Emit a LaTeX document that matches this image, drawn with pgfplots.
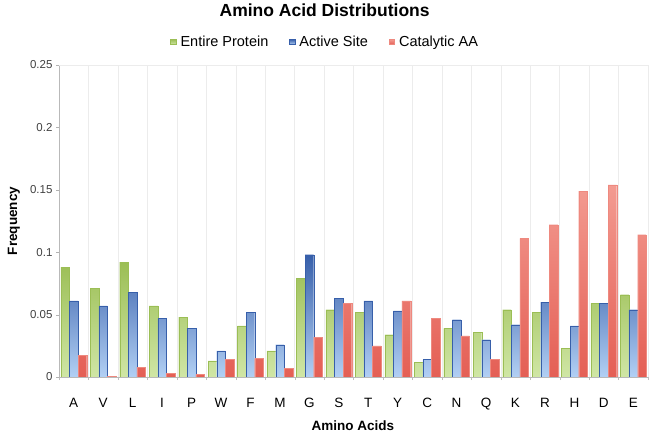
\documentclass[border=0pt]{standalone}
\usepackage{pgfplots}
\usepackage{pgfplotstable}
\pgfplotsset{compat=1.18}
\usepackage{fontspec}
\setmainfont{Liberation Sans}
\definecolor{gtop}{RGB}{155,190,85}
\definecolor{gbot}{RGB}{208,230,165}
\definecolor{btop}{RGB}{55,95,170}
\definecolor{bbot}{RGB}{178,208,244}
\definecolor{rtop}{RGB}{243,155,145}
\definecolor{rbot}{RGB}{228,95,85}
\pgfplotstableread{
x ent act cat
0  0.088 0.061 0.0175
1  0.071 0.057 0.0006
2  0.092 0.068 0.008
3  0.057 0.047 0.003
4  0.048 0.039 0.002
5  0.013 0.021 0.014
6  0.041 0.052 0.015
7  0.021 0.026 0.007
8  0.079 0.098 0.032
9  0.054 0.063 0.059
10 0.052 0.061 0.025
11 0.034 0.053 0.061
12 0.012 0.014 0.047
13 0.039 0.046 0.033
14 0.036 0.030 0.014
15 0.054 0.042 0.111
16 0.052 0.060 0.122
17 0.023 0.041 0.149
18 0.059 0.059 0.154
19 0.066 0.054 0.114
}\datatable
\begin{document}
\begin{tikzpicture}
\useasboundingbox (0,0) rectangle (654bp,438bp);
\begin{axis}[
  at={(59bp,61bp)}, anchor=south west,
  scale only axis, width=589bp, height=312bp,
  ybar=0pt, bar width=8.6bp,
  xmin=-0.5, xmax=19.5, ymin=0, ymax=0.25,
  xtick={0,...,19},
  xticklabels={A,V,L,I,P,W,F,M,G,S,T,Y,C,N,Q,K,R,H,D,E},
  minor xtick={-0.5,0.5,...,19.5},
  major x tick style={draw=none},
  minor x tick style={gray!50},
  xminorgrids, minor grid style={gray!15},
  ytick={0,0.05,...,0.25},
  yticklabels={0,0.05,0.1,0.15,0.2,0.25},
  tick align=outside, minor tick length=3bp, major tick length=3bp,
  y tick style={gray!60},
  axis line style={gray!55},
  axis x line*=bottom, axis y line*=left,
  xticklabel style={font=\fontsize{13.5bp}{14bp}\selectfont, anchor=base, yshift=-27bp},
  yticklabel style={font=\fontsize{11.5bp}{12bp}\selectfont, text=black!75},
  xlabel={\bfseries Amino Acids},
  ylabel={\bfseries Frequency},
  xlabel style={font=\fontsize{13.5bp}{14bp}\selectfont, at={(axis description cs:0.499,-0.157)}, anchor=center},
  ylabel style={font=\fontsize{13.5bp}{14bp}\selectfont, at={(axis description cs:-0.0764,0.5)}, anchor=center},
  title={\bfseries Amino Acid Distributions},
  title style={font=\fontsize{17.5bp}{18bp}\selectfont, at={(axis description cs:0.451,1.155)}, anchor=center},
  legend style={draw=none, fill=none, at={(axis description cs:0.452,1.074)}, anchor=center,
    legend columns=3, font=\fontsize{14.5bp}{15bp}\selectfont,
    /tikz/every even column/.append style={column sep=19bp}},
  legend image code/.code={\fill[#1] (0bp,-2.6bp) rectangle (5.5bp,2.6bp); \path (8bp,0bp);},
]
\addplot[draw=gtop, line width=0.1pt, top color=gtop, bottom color=gbot] table[x=x,y=ent]{\datatable};
\addplot[draw=btop, line width=0.1pt, top color=btop, bottom color=bbot] table[x=x,y=act]{\datatable};
\addplot[draw=rtop!70!rbot, line width=0.1pt, top color=rtop, bottom color=rbot] table[x=x,y=cat]{\datatable};
\legend{Entire Protein, Active Site, Catalytic AA}
\draw[gray!15] (rel axis cs:0,1) -- (rel axis cs:1,1) -- (rel axis cs:1,0);
\end{axis}
\end{tikzpicture}
\end{document}
